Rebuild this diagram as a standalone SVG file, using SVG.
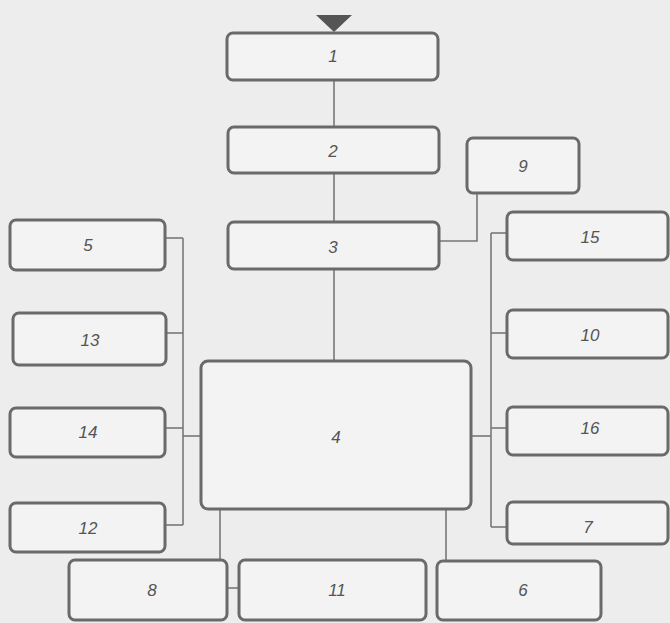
<svg xmlns="http://www.w3.org/2000/svg" width="670" height="623" viewBox="0 0 670 623">
<style>
.box{fill:#f3f3f3;stroke:#6a6a6a;stroke-width:3}
.lbl{font-family:"Liberation Sans",Arial,sans-serif;font-style:italic;font-size:17px;fill:#555;text-anchor:middle;dominant-baseline:central}
.con{stroke:#777;stroke-width:1.6;fill:none}
</style>
<rect width="670" height="623" fill="#ededed"/>
<g id="connectors">
<polygon points="316,15 352,15 334,32" fill="#555"/>
<line class="con" x1="334" y1="80" x2="334" y2="127"/>
<line class="con" x1="334" y1="173" x2="334" y2="222"/>
<line class="con" x1="334" y1="269" x2="334" y2="361"/>
<polyline class="con" points="439,241 477,241 477,193"/>
<line class="con" x1="183" y1="238" x2="183" y2="525"/>
<line class="con" x1="165" y1="238" x2="183" y2="238"/>
<line class="con" x1="166" y1="333" x2="183" y2="333"/>
<line class="con" x1="165" y1="428" x2="183" y2="428"/>
<line class="con" x1="165" y1="525" x2="183" y2="525"/>
<line class="con" x1="183" y1="436" x2="201" y2="436"/>
<line class="con" x1="491" y1="233" x2="491" y2="527"/>
<line class="con" x1="491" y1="233" x2="507" y2="233"/>
<line class="con" x1="491" y1="333" x2="507" y2="333"/>
<line class="con" x1="491" y1="428" x2="507" y2="428"/>
<line class="con" x1="491" y1="527" x2="507" y2="527"/>
<line class="con" x1="471" y1="436" x2="491" y2="436"/>
<line class="con" x1="220" y1="509" x2="220" y2="560"/>
<line class="con" x1="446" y1="509" x2="446" y2="561"/>
<line class="con" x1="227" y1="588" x2="239" y2="588"/>
</g>
<g id="n1"><rect class="box" x="227" y="33" width="211" height="47" rx="6"/><text class="lbl" x="333" y="56">1</text></g>
<g id="n2"><rect class="box" x="228" y="127" width="211" height="46" rx="6"/><text class="lbl" x="333" y="151">2</text></g>
<g id="n3"><rect class="box" x="228" y="222" width="211" height="47" rx="6"/><text class="lbl" x="333" y="247">3</text></g>
<g id="n9"><rect class="box" x="467" y="138" width="112" height="55" rx="6"/><text class="lbl" x="523" y="166">9</text></g>
<g id="n4"><rect class="box" x="201" y="361" width="270" height="148" rx="7"/><text class="lbl" x="336" y="437">4</text></g>
<g id="n5"><rect class="box" x="10" y="220" width="155" height="50" rx="6"/><text class="lbl" x="88" y="245">5</text></g>
<g id="n13"><rect class="box" x="13" y="313" width="153" height="52" rx="6"/><text class="lbl" x="90" y="340">13</text></g>
<g id="n14"><rect class="box" x="10" y="408" width="155" height="49" rx="6"/><text class="lbl" x="88" y="432">14</text></g>
<g id="n12"><rect class="box" x="10" y="503" width="155" height="49" rx="6"/><text class="lbl" x="88" y="528">12</text></g>
<g id="n15"><rect class="box" x="507" y="212" width="161" height="48" rx="6"/><text class="lbl" x="590" y="237">15</text></g>
<g id="n10"><rect class="box" x="507" y="310" width="161" height="48" rx="6"/><text class="lbl" x="590" y="335">10</text></g>
<g id="n16"><rect class="box" x="507" y="407" width="161" height="48" rx="6"/><text class="lbl" x="590" y="428">16</text></g>
<g id="n7"><rect class="box" x="507" y="502" width="161" height="42" rx="6"/><text class="lbl" x="588" y="527">7</text></g>
<g id="n8"><rect class="box" x="69" y="560" width="158" height="60" rx="6"/><text class="lbl" x="152" y="590">8</text></g>
<g id="n11"><rect class="box" x="239" y="560" width="187" height="60" rx="6"/><text class="lbl" x="337" y="590">11</text></g>
<g id="n6"><rect class="box" x="437" y="561" width="164" height="59" rx="6"/><text class="lbl" x="523" y="590">6</text></g>
</svg>
